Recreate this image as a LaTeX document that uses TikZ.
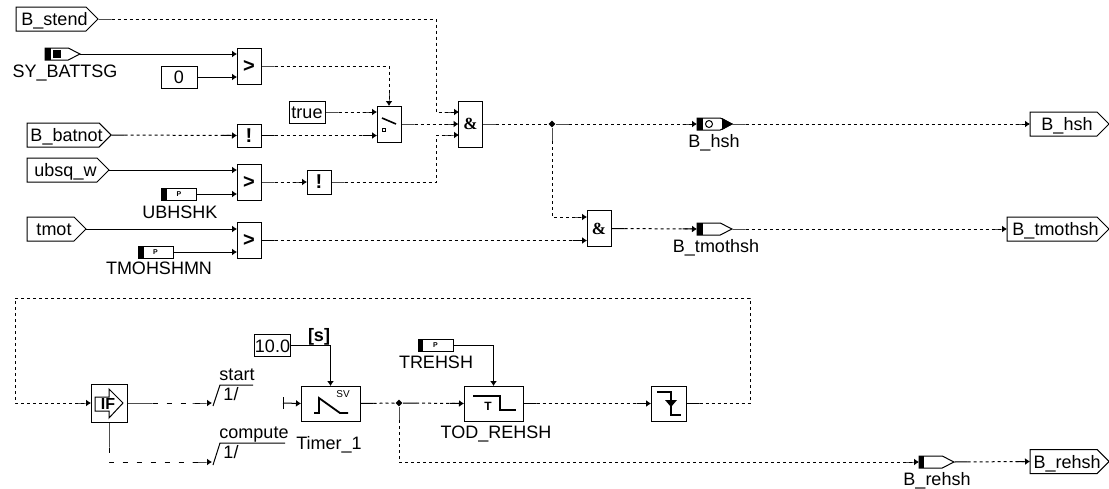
\documentclass[tikz,border=0pt]{standalone}
\usepackage{fontspec}
\setmainfont{Liberation Sans}
\newfontfamily\ampfont{Liberation Serif}
\usetikzlibrary{arrows.meta, shapes.geometric, shapes.symbols}
\tikzset{
  block/.style={draw, line width=1pt, inner sep=0pt, outer sep=0pt, fill=white},
  gate/.style={block, minimum width=24pt, minimum height=36pt, font=\fontsize{20}{20}\selectfont\bfseries},
  constbox/.style={block, minimum height=22pt, text height=13pt, text depth=0pt},
  parbox/.style={block, minimum width=35pt, minimum height=12pt, font=\fontsize{7}{7}\selectfont\bfseries},
  port/.style={block, signal, signal to=east, signal pointer angle=90, minimum height=24pt, text height=13pt, text depth=0pt,
    execute at begin node={\hskip3.5pt}, execute at end node={\hskip-3.5pt}},
  msg/.style={block, signal, signal to=east, signal pointer angle=54, minimum height=12pt, minimum width=35pt},
  lab/.style={inner sep=0pt, text height=13pt, text depth=0pt},
  junction/.style={diamond, fill=black, inner sep=0pt, minimum size=7pt},
  sym/.style={line width=1.8pt},
  dwire/.style={line width=1pt, dash pattern=on 3pt off 3pt,
    {Rectangle[length=14pt,width=1pt]}-{Rectangle[length=10pt,width=1pt]Latex[length=5pt,width=7pt]}},
  dline/.style={line width=1pt, dash pattern=on 3pt off 3pt, {Rectangle[length=14pt,width=1pt]}-},
  swire/.style={line width=1pt, -{Latex[length=5pt,width=7pt]}},
  cwire/.style={line width=1pt, dash pattern=on 5pt off 9pt,
    {Rectangle[length=26pt,width=1pt]}-{Rectangle[length=15pt,width=1pt]Latex[length=5pt,width=7pt]}},
}

\begin{document}
\begin{tikzpicture}[x=1pt, y=-1pt, font=\fontsize{18}{18}\selectfont]
  \useasboundingbox (0,0) rectangle (1109,488);

  % --- Upper inputs ---
  \node[port, minimum width=82pt, anchor=west] (bstend) at (16,19) {B\_stend};
  \node[port, minimum width=82pt, anchor=west] (bbatnot) at (27,135) {B\_batnot};
  \node[port, minimum width=82pt, anchor=west] (ubsqw) at (27,170) {ubsq\_w};
  \node[port, minimum width=59pt, anchor=west] (tmot) at (27,229) {tmot};

  \node[msg, anchor=west] (sybatt) at (45,54) {};
  \fill (45,48) rectangle (51,60);
  \fill (53,50) rectangle (61,58);
  \node[lab] (sybattlab) at (65,71) {SY\_BATTSG};

  \node[constbox, minimum width=36pt] (zero) at (179,77) {0};
  \node[constbox, minimum width=36pt] (truec) at (307,112) {true};

  \node[parbox] (ubhshk) at (179,194) {P};
  \fill (161,188) rectangle (167,200);
  \node[lab] (ubhshklab) at (180,212) {UBHSHK};

  \node[parbox] (tmohshmn) at (155.5,252) {P};
  \fill (138,246) rectangle (144,258);
  \node[lab] (tmohshmnlab) at (159,268) {TMOHSHMN};

  % --- Upper logic ---
  \node[gate] (gtbatt) at (249,66) {>};
  \node[gate, minimum height=23pt] (notbat) at (249,135.5) {!};
  \node[gate] (gtubsq) at (249,182) {>};
  \node[gate, minimum height=24pt] (notubsq) at (319,182) {!};
  \node[gate] (gttmot) at (249,240.5) {>};

  \node[gate] (swit) at (389,124) {};
  \draw[line width=1.6pt] (382,118) -- (396,124);
  \draw[line width=1pt] (382,128) rectangle (385,131);

  \node[gate, minimum height=46pt, font=\ampfont\fontsize{17}{17}\selectfont\bfseries] (anda) at (470.5,124) {\&};
  \node[gate, font=\ampfont\fontsize{17}{17}\selectfont\bfseries] (andb) at (599,228.5) {\&};

  \coordinate (andain) at (459,112);
  \coordinate (andaic) at (459,135);
  \coordinate (andbia) at (587,217);
  \node[junction] (hshdot) at (552,124) {};

  % --- Upper outputs ---
  \node[msg, fill=white, anchor=west] (hshmsg) at (697,124) {};
  \fill (722,118) -- (733,124) -- (722,130) -- cycle;
  \fill (697,118) rectangle (703,130);
  \draw[line width=1pt] (709,124) circle (3.5pt);
  \node[lab] (hshlab) at (714,141) {B\_hsh};

  \node[msg, anchor=west] (tmothshmsg) at (697,229) {};
  \fill (697,223) rectangle (703,235);
  \node[lab] (tmothshlab) at (716,246) {B\_tmothsh};

  \node[port, minimum width=79pt, anchor=west] (bhsh) at (1030,124) {B\_hsh};
  \node[port, minimum width=102pt, anchor=west] (btmothsh) at (1007,229) {B\_tmothsh};

  % --- Upper wires ---
  \draw[dwire] (bstend.east) -| (436,80) |- (andain);
  \draw[swire] (sybatt.east) -- (sybatt.east -| gtbatt.west);
  \draw[swire] (zero.east) -- (zero.east -| gtbatt.west);
  \draw[dwire] (gtbatt.east) -| (swit.north);
  \draw[dwire] (truec.east) -- (truec.east -| swit.west);
  \draw[dwire] (bbatnot.east) -- (notbat.west);
  \draw[dwire] (notbat.east) -- (notbat.east -| swit.west);
  \draw[swire] (ubsqw.east) -- (ubsqw.east -| gtubsq.west);
  \draw[swire] (ubhshk.east) -- (ubhshk.east -| gtubsq.west);
  \draw[dwire] (gtubsq.east) -- (notubsq.west);
  \draw[dwire] (notubsq.east) -| (436,160) |- (andaic);
  \draw[swire] (tmot.east) -- (tmot.east -| gttmot.west);
  \draw[swire] (tmohshmn.east) -- (tmohshmn.east -| gttmot.west);
  \draw[dwire] (gttmot.east) -- (gttmot.east -| andb.west);
  \draw[dwire] (swit.east) -- (anda.west);
  \draw[dline] (anda.east) -- (hshdot);
  \draw[dwire] (hshdot) -- (hshmsg.west);
  \draw[dwire] (hshdot) |- (andbia);
  \draw[dwire] (hshmsg.east) -- (bhsh.west);
  \draw[dwire] (andb.east) -- (tmothshmsg.west);
  \draw[dwire] (tmothshmsg.east) -- (btmothsh.west);

  % --- Lower part ---
  \coordinate (loopa) at (750,298);
  \coordinate (loopb) at (15,298);
  \coordinate (startin) at (212,403);
  \coordinate (compin) at (212,462);

  \node[block, minimum width=36pt, minimum height=38pt] (iff) at (109,403) {};
  \draw[line width=1pt] (95,397) -- (109,397) -- (109,389) -- (123,403) -- (109,418) -- (109,411) -- (95,411) -- cycle;
  \node[lab, text height=12pt, font=\fontsize{16}{16}\selectfont\bfseries] (ifflab) at (108,403) {IF};

  \draw[line width=1pt] (213,406) -- (220,385) -- (253,385);
  \node[lab] (startlab) at (237,374) {start};
  \node[lab] (startone) at (231,394) {1/};
  \draw[line width=1pt] (213,465) -- (220,443) -- (285,443);
  \node[lab] (complab) at (254,432) {compute};
  \node[lab] (compone) at (231,452) {1/};

  \node[constbox, minimum width=35pt] (tenc) at (272.5,345.5) {10.0};
  \node[lab, font=\fontsize{18}{18}\selectfont\bfseries] (unitlab) at (319,335) {[s]};

  \node[block, minimum width=59pt, minimum height=35pt] (timer) at (330.5,403.5) {};
  \draw[sym] (314,413) -- (319,413) -- (319,398) -- (340,413) -- (348,413);
  \node[lab, text height=7pt, font=\fontsize{10}{10}\selectfont] (svlab) at (343,394) {SV};
  \node[lab] (timerlab) at (329,443) {Timer\_1};
  \coordinate (timerfree) at (283,403);
  \draw[line width=1pt] (283,397) -- (283,409);

  \node[junction] (rehshdot) at (399,403) {};

  \node[parbox] (trehsh) at (435.5,345) {P};
  \fill (418,339) rectangle (423,351);
  \node[lab] (trehshlab) at (436,362) {TREHSH};

  \node[block, minimum width=59pt, minimum height=35pt] (todrehsh) at (493.5,403.5) {};
  \draw[sym] (473,396) -- (500,396) -- (500,410) -- (516,410);
  \node[lab, text height=9pt, font=\fontsize{12}{12}\selectfont\bfseries] (todt) at (488,406) {T};
  \node[lab] (todlab) at (496,432) {TOD\_REHSH};

  \node[block, minimum width=35pt, minimum height=35pt] (fall) at (668.5,403.5) {};
  \draw[sym] (657,392) -- (671,392) -- (671,415) -- (681,415);
  \fill (665,400) -- (677,400) -- (671,407) -- cycle;

  \node[msg, anchor=west] (rehshmsg) at (919,462) {};
  \fill (919,456) rectangle (924,468);
  \node[lab] (rehshlab) at (937,479) {B\_rehsh};
  \node[port, minimum width=79pt, anchor=west] (brehsh) at (1030,461.5) {B\_rehsh};

  % --- Lower wires ---
  \draw[dwire] (fall.east) -| (loopa) -- (loopb) |- (iff.west);
  \draw[cwire] (iff.east) -- (startin);
  \draw[cwire] (iff.south) |- (compin);
  \draw[swire] (tenc.east) -| (timer.north);
  \draw[swire] (timerfree) -- (timer.west);
  \draw[swire] (trehsh.east) -| (todrehsh.north);
  \draw[dline] (timer.east) -- (rehshdot);
  \draw[dwire] (rehshdot) -- (todrehsh.west);
  \draw[dwire] (rehshdot) |- (rehshmsg.west);
  \draw[dwire] (todrehsh.east) -- (fall.west);
  \draw[dwire] (rehshmsg.east) -- (brehsh.west);
\end{tikzpicture}
\end{document}
